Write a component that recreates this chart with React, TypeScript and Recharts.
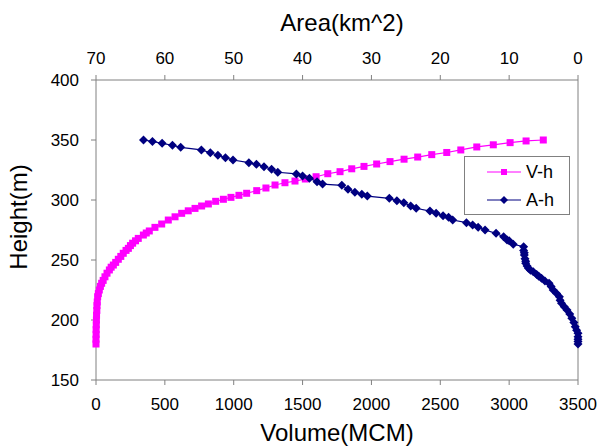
import React from 'react';
import { ScatterChart, Scatter, XAxis, YAxis, ReferenceLine, Legend, Label } from 'recharts';

// V-h curve: height (m) and storage volume (MCM)
const volHeights = [
  180, 184, 188, 192, 196, 200, 204, 208, 212, 215, 219.4, 222, 225, 228, 230.6, 233, 236, 239, 241.7, 244,
  245.8, 248, 250.6, 253, 255.6, 258, 259.7, 262, 264, 266, 268, 270.8, 272.5, 274.2, 277.2, 280, 283.3, 286,
  288.9, 291, 293, 295, 296.7, 298.9, 300.6, 302.2, 303.9, 305.6, 307.8, 310, 312.5, 314.4, 315.8, 317.5,
  319.4, 321.9, 323.6, 326, 328, 330, 332, 334, 335.8, 337.8, 339.6, 341.7, 344.2, 346, 347.8, 349.2, 350,
];
const volumes = [
  0, 0, 1, 1, 2, 3, 4, 6, 7, 9, 12, 17, 24, 32, 41, 52, 65, 80, 97, 110,
  126, 143, 162, 180, 198, 218, 235, 250, 266, 287, 307, 344, 365, 387, 428, 477, 525, 574,
  622, 670, 719, 767, 816, 869, 925, 980, 1038, 1094, 1167, 1234, 1300, 1372, 1445, 1520,
  1598, 1683, 1772, 1857, 1946, 2038, 2135, 2237, 2336, 2438, 2547, 2649, 2765, 2885, 3007, 3123, 3248,
];

// A-h curve: height (m) and surface area (km^2)
const areaHeights = [
  350, 348.8, 347.2, 345.6, 343.9, 341.7, 339.4, 337.3, 335.3, 333.3, 331.1, 329.7, 327.8, 325.6, 323.1,
  321.7, 320, 318.1, 315.3, 313.3, 312.2, 308.9, 306.4, 304.7, 303.3, 301.4, 299.4, 297.8, 295, 293.1,
  290.8, 288.9, 286.9, 285.6, 283.3, 281.1, 279.2, 277.2, 275, 272.2, 269.4, 266.7, 266.1, 263.1, 261.1,
  258, 256, 254.2, 251, 249, 247.2, 245, 243.1, 241.5, 240.3, 238, 236.5, 234.7, 232.5, 230.6, 228, 225,
  222, 219.4, 216.5, 213.9, 211, 208.3, 205, 201.4, 198, 194.4, 191.5, 188.9, 186, 184, 182, 180,
];
const areas = [
  63.1, 61.8, 60.4, 58.9, 57.7, 54.7, 53.4, 52.3, 51.2, 50.1, 47.8, 46.7, 45.6, 44.5, 43.6,
  40.9, 40.0, 39.0, 37.9, 37.1, 34.3, 33.4, 32.4, 31.4, 30.6, 27.4, 26.3, 25.3, 24.3, 23.5,
  21.5, 20.6, 19.6, 18.8, 18.2, 16.2, 15.3, 14.5, 13.5, 11.9, 10.8, 10.3, 10.0, 9.4, 7.9,
  7.9, 7.8, 7.8, 7.7, 7.6, 7.6, 7.4, 7.2, 6.9, 6.5, 6.0, 5.7, 5.3, 4.8, 4.2, 3.9, 3.6,
  3.1, 2.7, 2.6, 2.4, 2.0, 1.6, 1.2, 0.9, 0.6, 0.4, 0.2, 0, 0, 0, 0, 0,
];

const volumeTicks = [0, 500, 1000, 1500, 2000, 2500, 3000, 3500];
const areaTicks = [0, 10, 20, 30, 40, 50, 60, 70];
const heightTicks = [150, 200, 250, 300, 350, 400];

const MAGENTA = '#FF00FF';
const NAVY = '#000080';
const AXIS = '#808080';
const FONT = '"Liberation Sans", Arial, sans-serif';

const vhData = volHeights.map((h, i) => ({ v: volumes[i], h }));
const ahData = areaHeights.map((h, i) => ({ a: areas[i], h }));

const Square = (props: any) => {
  const { cx, cy } = props;
  return <rect x={cx - 3.5} y={cy - 3.5} width={7} height={7} fill={MAGENTA} />;
};

const Diamond = (props: any) => {
  const { cx, cy } = props;
  const r = 4.5;
  return <path d={`M${cx},${cy - r}L${cx + r},${cy}L${cx},${cy + r}L${cx - r},${cy}Z`} fill={NAVY} />;
};

const renderLegend = () => (
  <div style={{ width: 104, height: 57, border: `1px solid ${AXIS}`, background: '#fff', fontFamily: FONT, fontSize: 18 }}>
    {[
      { name: 'V-h', color: MAGENTA, mark: 'square' },
      { name: 'A-h', color: NAVY, mark: 'diamond' },
    ].map((e, i) => (
      <div key={e.name} style={{ display: 'flex', alignItems: 'center', height: 28, marginTop: i === 0 ? 1 : 0 }}>
        <svg width={56} height={12}>
          <line x1={22} x2={56} y1={6} y2={6} stroke={e.color} strokeWidth={1} />
          {e.mark === 'square'
            ? <rect x={36} y={3} width={6} height={6} fill={e.color} />
            : <path d="M39,2L43,6L39,10L35,6Z" fill={e.color} />}
        </svg>
        <span style={{ marginLeft: 5 }}>{e.name}</span>
      </div>
    ))}
  </div>
);

export default function App() {
  const tickStyle = { fill: '#000', fontSize: 17, fontFamily: FONT };
  const titleStyle = { fill: '#000', fontSize: 24, fontFamily: FONT };
  return (
    <div style={{ position: 'absolute', left: 0, top: 0, background: '#fff' }}>
      <ScatterChart width={601} height={446} margin={{ top: 0, right: 23, bottom: 0, left: 0 }} style={{ fontFamily: FONT }}>
        <XAxis
          xAxisId="vol"
          dataKey="v"
          type="number"
          domain={[0, 3500]}
          ticks={volumeTicks}
          orientation="bottom"
          height={66}
          stroke={AXIS}
          tick={tickStyle}
          tickSize={5}
          tickMargin={13}
        >
          <Label value="Volume(MCM)" position="center" dy={19} style={titleStyle} />
        </XAxis>
        <XAxis
          xAxisId="area"
          dataKey="a"
          type="number"
          domain={[0, 70]}
          ticks={areaTicks}
          orientation="top"
          reversed
          height={80}
          stroke={AXIS}
          tick={tickStyle}
          tickSize={5}
          tickMargin={11}
        >
          <Label value="Area(km^2)" position="center" dx={5} dy={-18} style={titleStyle} />
        </XAxis>
        <YAxis
          dataKey="h"
          type="number"
          domain={[150, 400]}
          ticks={heightTicks}
          width={96}
          stroke={AXIS}
          tick={tickStyle}
          tickSize={5}
          tickMargin={12}
        >
          <Label value="Height(m)" angle={-90} position="center" dx={-30} dy={-13} style={titleStyle} />
        </YAxis>
        <ReferenceLine x={3500} xAxisId="vol" stroke={AXIS} />
        <Legend
          content={renderLegend}
          layout="horizontal"
          verticalAlign="middle"
          align="center"
          wrapperStyle={{ left: 464, top: 156, width: 106, height: 59 }}
        />
        <Scatter
          name="V-h"
          data={vhData}
          xAxisId="vol"
          fill={MAGENTA}
          shape={Square}
          line={{ stroke: MAGENTA, strokeWidth: 1.2 }}
          lineType="joint"
          isAnimationActive={false}
        />
        <Scatter
          name="A-h"
          data={ahData}
          xAxisId="area"
          fill={NAVY}
          shape={Diamond}
          line={{ stroke: NAVY, strokeWidth: 1.2 }}
          lineType="joint"
          isAnimationActive={false}
        />
      </ScatterChart>
    </div>
  );
}
